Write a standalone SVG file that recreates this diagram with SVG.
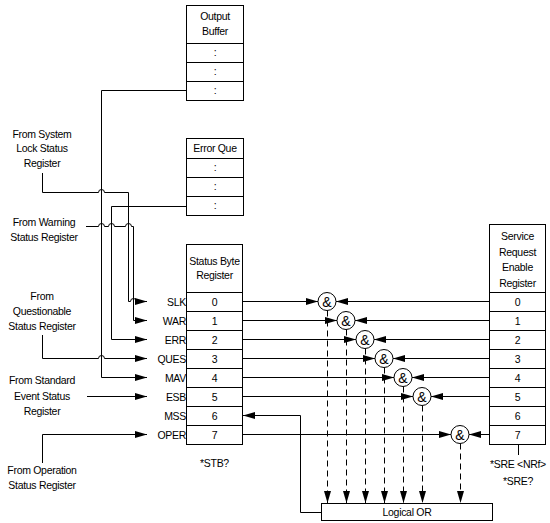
<svg xmlns="http://www.w3.org/2000/svg" width="550" height="523" viewBox="0 0 550 523">
<style>
text{font-family:"Liberation Sans",Arial,sans-serif;font-size:10.5px;letter-spacing:-0.3px;fill:#000;text-anchor:middle}
.r{text-anchor:end}
.amp{font-size:14px;letter-spacing:0}
.box{fill:#fff;stroke:#000;stroke-width:1}
.w{fill:none;stroke:#000;stroke-width:1}
.d{fill:none;stroke:#000;stroke-width:1;stroke-dasharray:6,4}
</style>
<defs>
<marker id="ah" markerUnits="userSpaceOnUse" markerWidth="12" markerHeight="8" refX="12" refY="3.5" orient="auto">
<path d="M0,0 L12,3.5 L0,7 z" fill="#000"/>
</marker>
</defs>
<rect width="550" height="523" fill="#fff"/>

<g id="output-buffer">
<rect class="box" x="186.5" y="5.5" width="57" height="95"/>
<path class="w" d="M186.5,43.5H243.5M186.5,62.5H243.5M186.5,81.5H243.5"/>
<text x="215" y="20">Output</text>
<text x="215" y="35">Buffer</text>
<text x="215" y="56">:</text>
<text x="215" y="75">:</text>
<text x="215" y="94">:</text>
</g>

<g id="error-queue">
<rect class="box" x="186.5" y="138.5" width="57" height="77"/>
<path class="w" d="M186.5,158.5H243.5M186.5,177.5H243.5M186.5,196.5H243.5"/>
<text x="215" y="152">Error Que</text>
<text x="215" y="171">:</text>
<text x="215" y="190">:</text>
<text x="215" y="209">:</text>
</g>

<g id="status-byte-register">
<rect class="box" x="186.5" y="244.5" width="56" height="200"/>
<path class="w" d="M186.5,292.5H242.5M186.5,311.5H242.5M186.5,330.5H242.5M186.5,349.5H242.5M186.5,368.5H242.5M186.5,387.5H242.5M186.5,406.5H242.5M186.5,425.5H242.5"/>
<text x="214.5" y="265">Status Byte</text>
<text x="214.5" y="279">Register</text>
<text x="214.5" y="305.5">0</text>
<text x="214.5" y="324.5">1</text>
<text x="214.5" y="343.5">2</text>
<text x="214.5" y="362.5">3</text>
<text x="214.5" y="381.5">4</text>
<text x="214.5" y="400.5">5</text>
<text x="214.5" y="419.5">6</text>
<text x="214.5" y="438.5">7</text>
<text class="r" x="186" y="305.5">SLK</text>
<text class="r" x="186" y="324.5">WAR</text>
<text class="r" x="186" y="343.5">ERR</text>
<text class="r" x="186" y="362.5">QUES</text>
<text class="r" x="186" y="381.5">MAV</text>
<text class="r" x="186" y="400.5">ESB</text>
<text class="r" x="186" y="419.5">MSS</text>
<text class="r" x="186" y="438.5">OPER</text>
<text x="214.5" y="467">*STB?</text>
</g>

<g id="service-request-enable-register">
<rect class="box" x="489.5" y="224.5" width="56" height="220"/>
<path class="w" d="M489.5,292.5H545.5M489.5,311.5H545.5M489.5,330.5H545.5M489.5,349.5H545.5M489.5,368.5H545.5M489.5,387.5H545.5M489.5,406.5H545.5M489.5,425.5H545.5"/>
<text x="517.5" y="240">Service</text>
<text x="517.5" y="256">Request</text>
<text x="517.5" y="271">Enable</text>
<text x="517.5" y="287">Register</text>
<text x="517.5" y="305.5">0</text>
<text x="517.5" y="324.5">1</text>
<text x="517.5" y="343.5">2</text>
<text x="517.5" y="362.5">3</text>
<text x="517.5" y="381.5">4</text>
<text x="517.5" y="400.5">5</text>
<text x="517.5" y="419.5">6</text>
<text x="517.5" y="438.5">7</text>
<path class="w" d="M518.5,444.5V455"/>
<text x="518" y="468">*SRE &lt;NRf&gt;</text>
<text x="518" y="485">*SRE?</text>
</g>

<g id="logical-or">
<rect class="box" x="321.5" y="503.5" width="171" height="17"/>
<text x="407" y="516">Logical OR</text>
</g>

<g id="source-labels">
<text x="42" y="138">From System</text>
<text x="42" y="152">Lock Status</text>
<text x="42" y="167">Register</text>
<text x="44" y="226">From Warning</text>
<text x="44" y="241">Status Register</text>
<text x="42" y="300">From</text>
<text x="42" y="315">Questionable</text>
<text x="42" y="330">Status Register</text>
<text x="42" y="384">From Standard</text>
<text x="42" y="400">Event Status</text>
<text x="42" y="415">Register</text>
<text x="42" y="474">From Operation</text>
<text x="42" y="489">Status Register</text>
</g>

<g id="gates">
<g id="and0"><circle class="box" cx="327" cy="301.5" r="9"/><text class="amp" x="327" y="306.5">&amp;</text></g>
<g id="and1"><circle class="box" cx="346" cy="320.5" r="9"/><text class="amp" x="346" y="325.5">&amp;</text></g>
<g id="and2"><circle class="box" cx="365" cy="339.5" r="9"/><text class="amp" x="365" y="344.5">&amp;</text></g>
<g id="and3"><circle class="box" cx="384" cy="358.5" r="9"/><text class="amp" x="384" y="363.5">&amp;</text></g>
<g id="and4"><circle class="box" cx="403" cy="377.5" r="9"/><text class="amp" x="403" y="382.5">&amp;</text></g>
<g id="and5"><circle class="box" cx="422" cy="396.5" r="9"/><text class="amp" x="422" y="401.5">&amp;</text></g>
<g id="and7"><circle class="box" cx="460" cy="434.5" r="9"/><text class="amp" x="460" y="439.5">&amp;</text></g>
</g>

<g id="connectors">
<path class="w" d="M42.5,173V192.5H98.5A3,3 0 0 1 104.5,192.5H128.5V301.5H130.5A3,3 0 0 1 136.5,301.5H147" marker-end="url(#ah)"/>
<path class="w" d="M86,226.5H98.5A3,3 0 0 1 104.5,226.5H108.5A3,3 0 0 1 114.5,226.5H125.5A3,3 0 0 1 131.5,226.5H133.5V320.5H147" marker-end="url(#ah)"/>
<path class="w" d="M186.5,206.5H111.5V339.5H147" marker-end="url(#ah)"/>
<path class="w" d="M42.5,335V358.5H98.5A3,3 0 0 1 104.5,358.5H147" marker-end="url(#ah)"/>
<path class="w" d="M186.5,90.5H101.5V377.5H147" marker-end="url(#ah)"/>
<path class="w" d="M87,396.5H147" marker-end="url(#ah)"/>
<path class="w" d="M42.5,463V434.5H147" marker-end="url(#ah)"/>
<path class="w" d="M242.5,301.5H318" marker-end="url(#ah)"/>
<path class="w" d="M242.5,320.5H337" marker-end="url(#ah)"/>
<path class="w" d="M242.5,339.5H356" marker-end="url(#ah)"/>
<path class="w" d="M242.5,358.5H375" marker-end="url(#ah)"/>
<path class="w" d="M242.5,377.5H394" marker-end="url(#ah)"/>
<path class="w" d="M242.5,396.5H413" marker-end="url(#ah)"/>
<path class="w" d="M242.5,434.5H451" marker-end="url(#ah)"/>
<path class="w" d="M489.5,301.5H336" marker-end="url(#ah)"/>
<path class="w" d="M489.5,320.5H355" marker-end="url(#ah)"/>
<path class="w" d="M489.5,339.5H374" marker-end="url(#ah)"/>
<path class="w" d="M489.5,358.5H393" marker-end="url(#ah)"/>
<path class="w" d="M489.5,377.5H412" marker-end="url(#ah)"/>
<path class="w" d="M489.5,396.5H431" marker-end="url(#ah)"/>
<path class="w" d="M489.5,434.5H469" marker-end="url(#ah)"/>
<path class="d" d="M327.5,310.5V503" marker-end="url(#ah)"/>
<path class="d" d="M346.5,329.5V503" marker-end="url(#ah)"/>
<path class="d" d="M365.5,348.5V503" marker-end="url(#ah)"/>
<path class="d" d="M384.5,367.5V503" marker-end="url(#ah)"/>
<path class="d" d="M403.5,386.5V503" marker-end="url(#ah)"/>
<path class="d" d="M422.5,405.5V503" marker-end="url(#ah)"/>
<path class="d" d="M460.5,443.5V503" marker-end="url(#ah)"/>
<path class="w" d="M321.5,512.5H300.5V415.5H243" marker-end="url(#ah)"/>
</g>
</svg>
